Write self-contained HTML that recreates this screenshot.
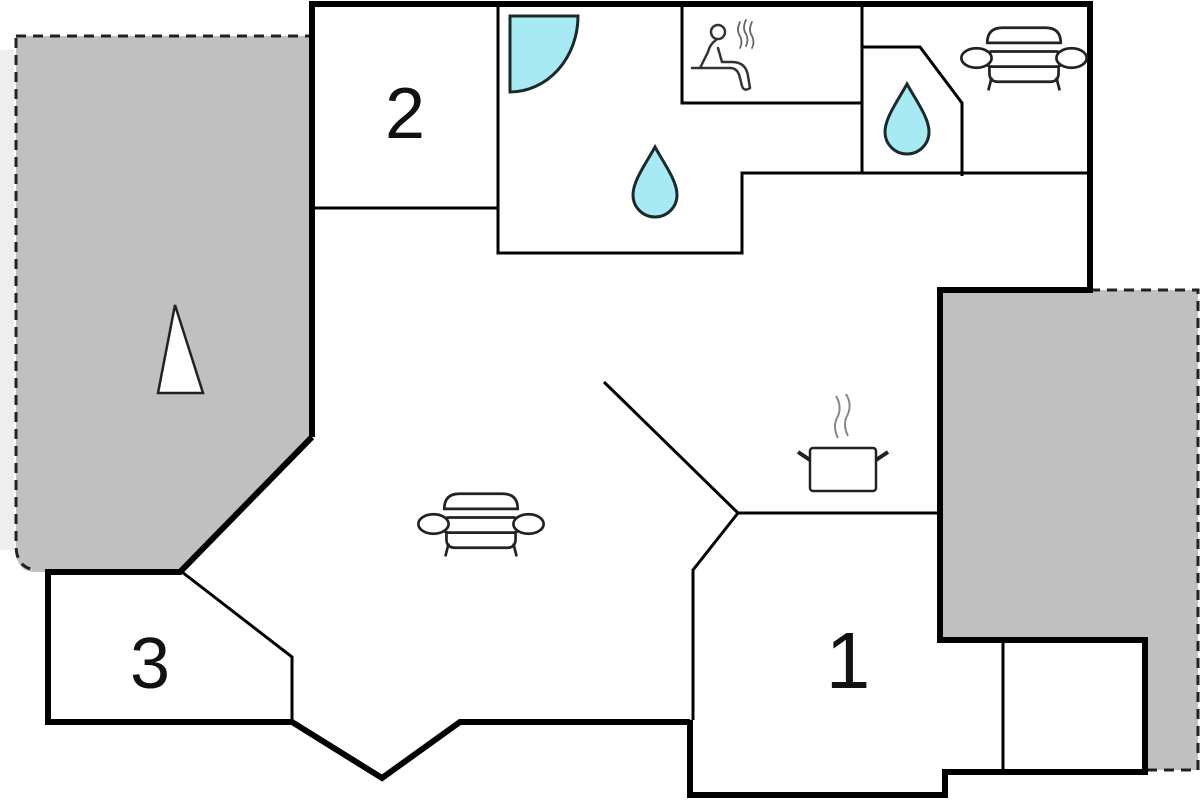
<!DOCTYPE html>
<html><head><style>body{margin:0;background:#fff}svg{display:block}</style></head><body>
<svg width="1200" height="800" viewBox="0 0 1200 800" xmlns="http://www.w3.org/2000/svg">
<defs>
<g id="sofa" fill="#fff" stroke="#222" stroke-width="2.5">
<path d="M-34,-14 q0,-14 14,-14 h40 q14,0 14,14 z"/>
<rect x="-36" y="-6" width="72" height="14" rx="6"/>
<ellipse cx="-44" cy="0" rx="14" ry="9"/><ellipse cx="44" cy="0" rx="14" ry="9"/>
<path d="M-32,8 v6 q0,8 8,8 h48 q8,0 8,-8 v-6 M-30,18 l-3,12 M30,18 l3,12" fill="none"/>
</g>
<path id="drop" d="M0,-36 C-10,-18 -22,-2 -22,12 A22,22 0 0 0 22,12 C22,-2 10,-18 0,-36 Z" fill="#a8eaf3" stroke="#1a2a2a" stroke-width="3"/>
</defs>
<rect x="0" y="50" width="14" height="500" fill="#eee"/>
<path d="M16,36 H312 V437 L180,572 H36 Q16,572 16,550 Z" fill="#c0c0c0"/>
<path d="M16,36 H312 M16,38 V545 Q16,568 36,570" fill="none" stroke="#222" stroke-width="3" stroke-dasharray="10,7"/>
<path d="M940,290 H1198 V770 H1145 V640 H940 Z" fill="#c0c0c0"/>
<path d="M1090,290 H1198 V770 H1145" fill="none" stroke="#222" stroke-width="3" stroke-dasharray="10,7"/>
<path d="M158,393 L175,305 L203,393 Z" fill="#fff" stroke="#222" stroke-width="2.5"/>
<g fill="none" stroke="#000" stroke-width="6" stroke-linejoin="miter">
<path d="M312,437 V4 H1090 V290 H940 V640 H1145 V772 H945 V795 H690 V720"/>
<path d="M312,437 L180,572 H48 V722 H292 L382,778 L460,722 H690"/>
</g>
<g fill="none" stroke="#000" stroke-width="3">
<path d="M312,208 H498 M498,4 V253 H742 V173 H1090"/>
<path d="M682,4 V103 H862 M862,4 V173"/>
<path d="M862,47 H920 L962,103 V176"/>
<path d="M604,382 L738,513 H940 M738,513 L693,570 V720"/>
<path d="M182,572 L292,657 V722"/>
<path d="M1003,640 V772"/>
</g>
<path d="M510,16 H578 A68,76 0 0 1 510,92 Z" fill="#a8eaf3" stroke="#1a2a2a" stroke-width="3"/>
<use href="#drop" x="655" y="183"/>
<use href="#drop" x="907" y="120"/>
<g transform="translate(1024,58) scale(1.08)"><use href="#sofa"/></g>
<g transform="translate(481,524) scale(1.08)"><use href="#sofa"/></g>
<g fill="none" stroke="#333" stroke-width="2.5" stroke-linecap="round" stroke-linejoin="round">
<circle cx="718" cy="32" r="7"/>
<path d="M716,40 q-6,4 -8,12 l-8,16 h30 q8,0 10,10 l2,8 q2,6 8,2 l-2,-12 q-2,-14 -16,-14 h-10 l-4,-14 M700,68 h-8"/>
<path d="M740,22 q-4,8 0,14 q3,6 0,12 M746,20 q-4,8 0,14 q3,6 0,12 M752,22 q-4,8 0,14 q3,6 0,12" stroke="#666" stroke-width="1.8"/>
</g>
<g fill="#fff" stroke="#222" stroke-width="2.5">
<rect x="810" y="448" width="66" height="43" rx="3"/>
<path d="M810,460 l-12,-8 M876,460 l12,-8" fill="none" stroke-width="4"/>
<path d="M838,438 q-6,-12 0,-22 q4,-10 -2,-20 M848,436 q-6,-12 0,-22 q4,-10 -2,-20" fill="none" stroke="#888" stroke-width="2"/>
</g>
<g font-family="Liberation Sans, sans-serif" fill="#111" text-anchor="middle">
<text x="405" y="138" font-size="72">2</text>
<text x="150" y="688" font-size="72">3</text>
<text x="848" y="688" font-size="80">1</text>
</g>
</svg>
</body></html>
